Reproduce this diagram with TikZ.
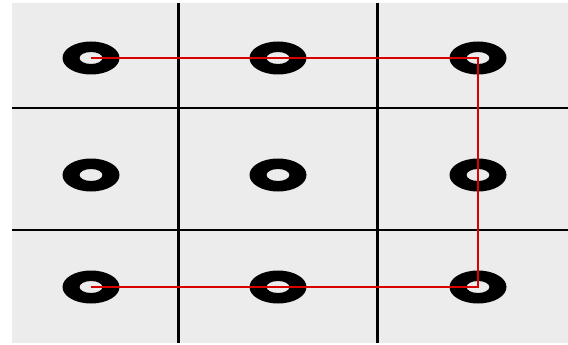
\documentclass[tikz,border=0pt]{standalone}
\begin{document}
\begin{tikzpicture}[x=1pt,y=-1pt,
  gridline/.style={black,line width=2.4pt},
  path/.style={red!85!black,line width=1.6pt},
  ring/.style={fill=black,even odd rule}]
\useasboundingbox (0,0) rectangle (568,345);
\fill[gray!15] (12,3) rectangle (568,343);
\draw[gridline] (12,108) -- (568,108);
\draw[gridline] (12,230) -- (568,230);
\draw[gridline,line width=3pt] (178,3) -- (178,343);
\draw[gridline,line width=3pt] (377,3) -- (377,343);
\foreach \r/\y in {1/58,2/175,3/287}{
  \foreach \c/\x in {1/91,2/278,3/478}{
    \coordinate (r\r\c) at (\x,\y);
    \fill[ring] (r\r\c) ellipse (28.5 and 16.5) (r\r\c) ellipse (11.5 and 6);
  }
}
\draw[path] (r11) -- (r13) -- (r33) -- (r31);
\end{tikzpicture}
\end{document}
